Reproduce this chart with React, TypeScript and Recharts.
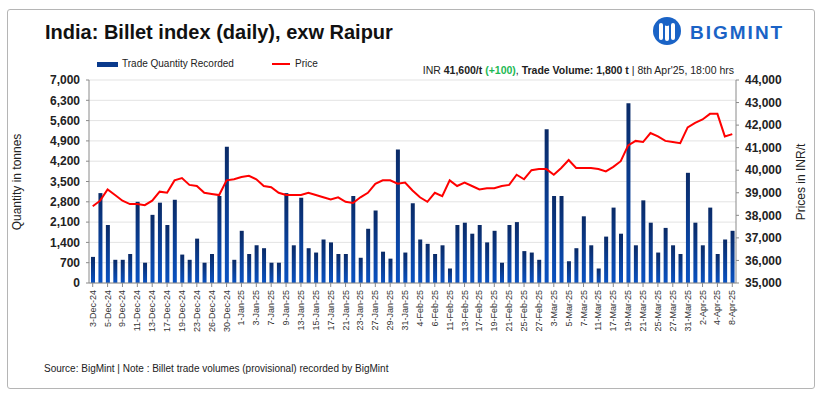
import React from "react";
import {
  ComposedChart,
  Bar,
  Line,
  XAxis,
  YAxis,
  CartesianGrid,
} from "recharts";

const dates = [
  "3-Dec-24", "4-Dec-24", "5-Dec-24", "6-Dec-24", "9-Dec-24", "10-Dec-24", "11-Dec-24", "12-Dec-24",
  "13-Dec-24", "16-Dec-24", "17-Dec-24", "18-Dec-24", "19-Dec-24", "20-Dec-24", "23-Dec-24", "24-Dec-24",
  "26-Dec-24", "27-Dec-24", "30-Dec-24", "31-Dec-24", "1-Jan-25", "2-Jan-25", "3-Jan-25", "6-Jan-25",
  "7-Jan-25", "8-Jan-25", "9-Jan-25", "10-Jan-25", "13-Jan-25", "14-Jan-25", "15-Jan-25", "16-Jan-25",
  "17-Jan-25", "20-Jan-25", "21-Jan-25", "22-Jan-25", "23-Jan-25", "24-Jan-25", "27-Jan-25", "28-Jan-25",
  "29-Jan-25", "30-Jan-25", "31-Jan-25", "3-Feb-25", "4-Feb-25", "5-Feb-25", "6-Feb-25", "10-Feb-25",
  "11-Feb-25", "12-Feb-25", "13-Feb-25", "14-Feb-25", "17-Feb-25", "18-Feb-25", "19-Feb-25", "20-Feb-25",
  "21-Feb-25", "24-Feb-25", "25-Feb-25", "26-Feb-25", "27-Feb-25", "28-Feb-25", "3-Mar-25", "4-Mar-25",
  "5-Mar-25", "6-Mar-25", "7-Mar-25", "10-Mar-25", "11-Mar-25", "12-Mar-25", "17-Mar-25", "18-Mar-25",
  "19-Mar-25", "20-Mar-25", "21-Mar-25", "24-Mar-25", "25-Mar-25", "26-Mar-25", "27-Mar-25", "28-Mar-25",
  "31-Mar-25", "1-Apr-25", "2-Apr-25", "3-Apr-25", "4-Apr-25", "7-Apr-25", "8-Apr-25",
];

const quantity = [
  900, 3100, 2000, 800, 800, 1000, 2800, 700, 2350, 2770, 2000, 2870, 980, 800, 1530, 700,
  1000, 3000, 4700, 800, 1800, 1000, 1300, 1200, 700, 700, 3100, 1300, 2940, 1200, 1050, 1500,
  1400, 1000, 1000, 3000, 870, 1870, 2500, 1080, 840, 4600, 1050, 2750, 1500, 1350, 1000, 1300,
  500, 2000, 2080, 1700, 2000, 1400, 1800, 700, 2000, 2100, 1100, 1050, 800, 5300, 3000, 3000,
  750, 1200, 2300, 1300, 500, 1600, 2600, 1700, 6200, 1300, 2850, 2080, 1050, 1900, 1300, 1000,
  3800, 2080, 1300, 2600, 1000, 1500, 1800,
];

const price = [
  38400, 38650, 39150, 38900, 38650, 38500, 38500, 38450, 38650, 39050, 39000, 39550, 39650, 39350, 39300, 39000,
  38950, 38900, 39550, 39600, 39700, 39750, 39600, 39300, 39250, 39000, 38900, 38900, 38900, 39000, 38900, 38800,
  38700, 38800, 38600, 38550, 38800, 39000, 39400, 39550, 39550, 39400, 39450, 39100, 38800, 38600, 39000, 38850,
  39550, 39300, 39450, 39300, 39150, 39200, 39200, 39300, 39350, 39800, 39600, 40000, 40050, 40050, 39800, 40100,
  40450, 40100, 40100, 40100, 40050, 39950, 40150, 40400, 41100, 41300, 41250, 41650, 41500, 41300, 41250, 41200,
  41900, 42100, 42250, 42500, 42500, 41500, 41600,
];

const leftTicks = [0, 700, 1400, 2100, 2800, 3500, 4200, 4900, 5600, 6300, 7000];
const rightTicks = [35000, 36000, 37000, 38000, 39000, 40000, 41000, 42000, 43000, 44000];

const data = dates.map((d, i) => ({ date: d, qty: quantity[i], price: price[i] }));

const FONT = "'Liberation Sans', Arial, Helvetica, sans-serif";

const fmt = (v: number) => v.toLocaleString("en-US");

const XTick = (props: any) => {
  const { x, y, payload } = props;
  return (
    <text
      x={x}
      y={y}
      transform={`rotate(-90, ${x}, ${y})`}
      textAnchor="end"
      dominantBaseline="central"
      fontSize={9}
      fill="#333"
      fontFamily={FONT}
    >
      {payload.value}
    </text>
  );
};

export default function App() {
  return (
    <div style={{ position: "relative", width: 823, height: 396, background: "#fff", fontFamily: FONT }}>
      <style>{`body{margin:0;}`}</style>
      <div
        style={{
          position: "absolute",
          left: 7,
          top: 9,
          width: 808,
          height: 380,
          border: "1px solid #b5b5b5",
          borderRadius: 3,
          boxSizing: "border-box",
        }}
      />
      <div
        style={{
          position: "absolute",
          left: 45,
          top: 21,
          fontSize: 20,
          fontWeight: "bold",
          color: "#111",
          whiteSpace: "nowrap",
        }}
      >
        India: Billet index (daily), exw Raipur
      </div>
      {/* Logo */}
      <svg style={{ position: "absolute", left: 650, top: 14 }} width={150} height={36}>
        <circle cx={17} cy={17} r={14} fill="#1a63c6" />
        <rect x={9} y={9} width={4} height={17} rx={2} fill="#fff" />
        <rect x={15} y={7} width={4} height={20} rx={2} fill="#fff" />
        <rect x={21} y={9} width={4} height={17} rx={2} fill="#fff" />
        <circle cx={17} cy={9} r={3} fill="#1a63c6" />
        <text x={40} y={25} fontSize={19} fontWeight="bold" fill="#1a63c6" letterSpacing={2} fontFamily={FONT}>
          BIGMINT
        </text>
      </svg>
      {/* Legend */}
      <div style={{ position: "absolute", left: 97, top: 62, width: 21, height: 5, background: "#0a3a8c" }} />
      <div style={{ position: "absolute", left: 122, top: 58, fontSize: 10, color: "#222", whiteSpace: "nowrap" }}>
        Trade Quantity Recorded
      </div>
      <div style={{ position: "absolute", left: 272, top: 63, width: 18, height: 2, background: "#ff0000" }} />
      <div style={{ position: "absolute", left: 295, top: 58, fontSize: 10, color: "#222", whiteSpace: "nowrap" }}>
        Price
      </div>
      {/* Annotation */}
      <div
        style={{
          position: "absolute",
          right: 823 - 734,
          top: 64,
          fontSize: 10.5,
          color: "#222",
          whiteSpace: "nowrap",
        }}
      >
        INR <b>41,600/t</b> <b style={{ color: "#1db954" }}>(+100)</b>, <b>Trade Volume: 1,800 t</b> | 8th Apr'25, 18:00 hrs
      </div>
      {/* Axis titles */}
      <div
        style={{
          position: "absolute",
          left: 17,
          top: 182,
          transform: "translate(-50%, -50%) rotate(-90deg)",
          fontSize: 12,
          color: "#222",
          whiteSpace: "nowrap",
        }}
      >
        Quantity in tonnes
      </div>
      <div
        style={{
          position: "absolute",
          left: 801,
          top: 182,
          transform: "translate(-50%, -50%) rotate(-90deg)",
          fontSize: 12,
          color: "#222",
          whiteSpace: "nowrap",
        }}
      >
        Prices in INR/t
      </div>
      {/* Source */}
      <div style={{ position: "absolute", left: 44, top: 363, fontSize: 10, color: "#222", whiteSpace: "nowrap" }}>
        Source: BigMint | Note : Billet trade volumes (provisional) recorded by BigMint
      </div>
      <div style={{ position: "absolute", left: 0, top: 0 }}>
        <ComposedChart
          width={823}
          height={396}
          data={data}
          margin={{ top: 80, right: 30, left: 30, bottom: 52 }}
          barCategoryGap={0}
        >
          <defs>
            <linearGradient id="barGrad" x1="0" y1="0" x2="0" y2="1">
              <stop offset="0%" stopColor="#0a2a66" />
              <stop offset="100%" stopColor="#0a52c2" />
            </linearGradient>
          </defs>
          <CartesianGrid yAxisId="left" vertical={false} stroke="#e3e3e3" strokeWidth={1} />
          <XAxis
            dataKey="date"
            interval={1}
            height={61}
            tick={<XTick />}
            tickSize={4}
            tickMargin={3}
            axisLine={{ stroke: "#8a8a8a" }}
            tickLine={{ stroke: "#8a8a8a" }}
          />
          <YAxis
            yAxisId="left"
            width={59}
            domain={[0, 7000]}
            ticks={leftTicks}
            interval={0}
            tickFormatter={fmt}
            tickSize={3}
            tickMargin={6}
            axisLine={{ stroke: "#8a8a8a" }}
            tickLine={{ stroke: "#8a8a8a" }}
            tick={{ fontSize: 12, fontWeight: "bold", fill: "#222", fontFamily: FONT }}
          />
          <YAxis
            yAxisId="right"
            orientation="right"
            width={57}
            domain={[35000, 44000]}
            ticks={rightTicks}
            interval={0}
            tickFormatter={fmt}
            tickSize={3}
            tickMargin={6}
            axisLine={{ stroke: "#8a8a8a" }}
            tickLine={{ stroke: "#8a8a8a" }}
            tick={{ fontSize: 12, fontWeight: "bold", fill: "#222", fontFamily: FONT }}
          />
          <Bar yAxisId="left" dataKey="qty" fill="url(#barGrad)" barSize={4} isAnimationActive={false} />
          <Line
            yAxisId="right"
            dataKey="price"
            type="linear"
            stroke="#ff0000"
            strokeWidth={2}
            dot={false}
            isAnimationActive={false}
          />
        </ComposedChart>
      </div>
    </div>
  );
}
